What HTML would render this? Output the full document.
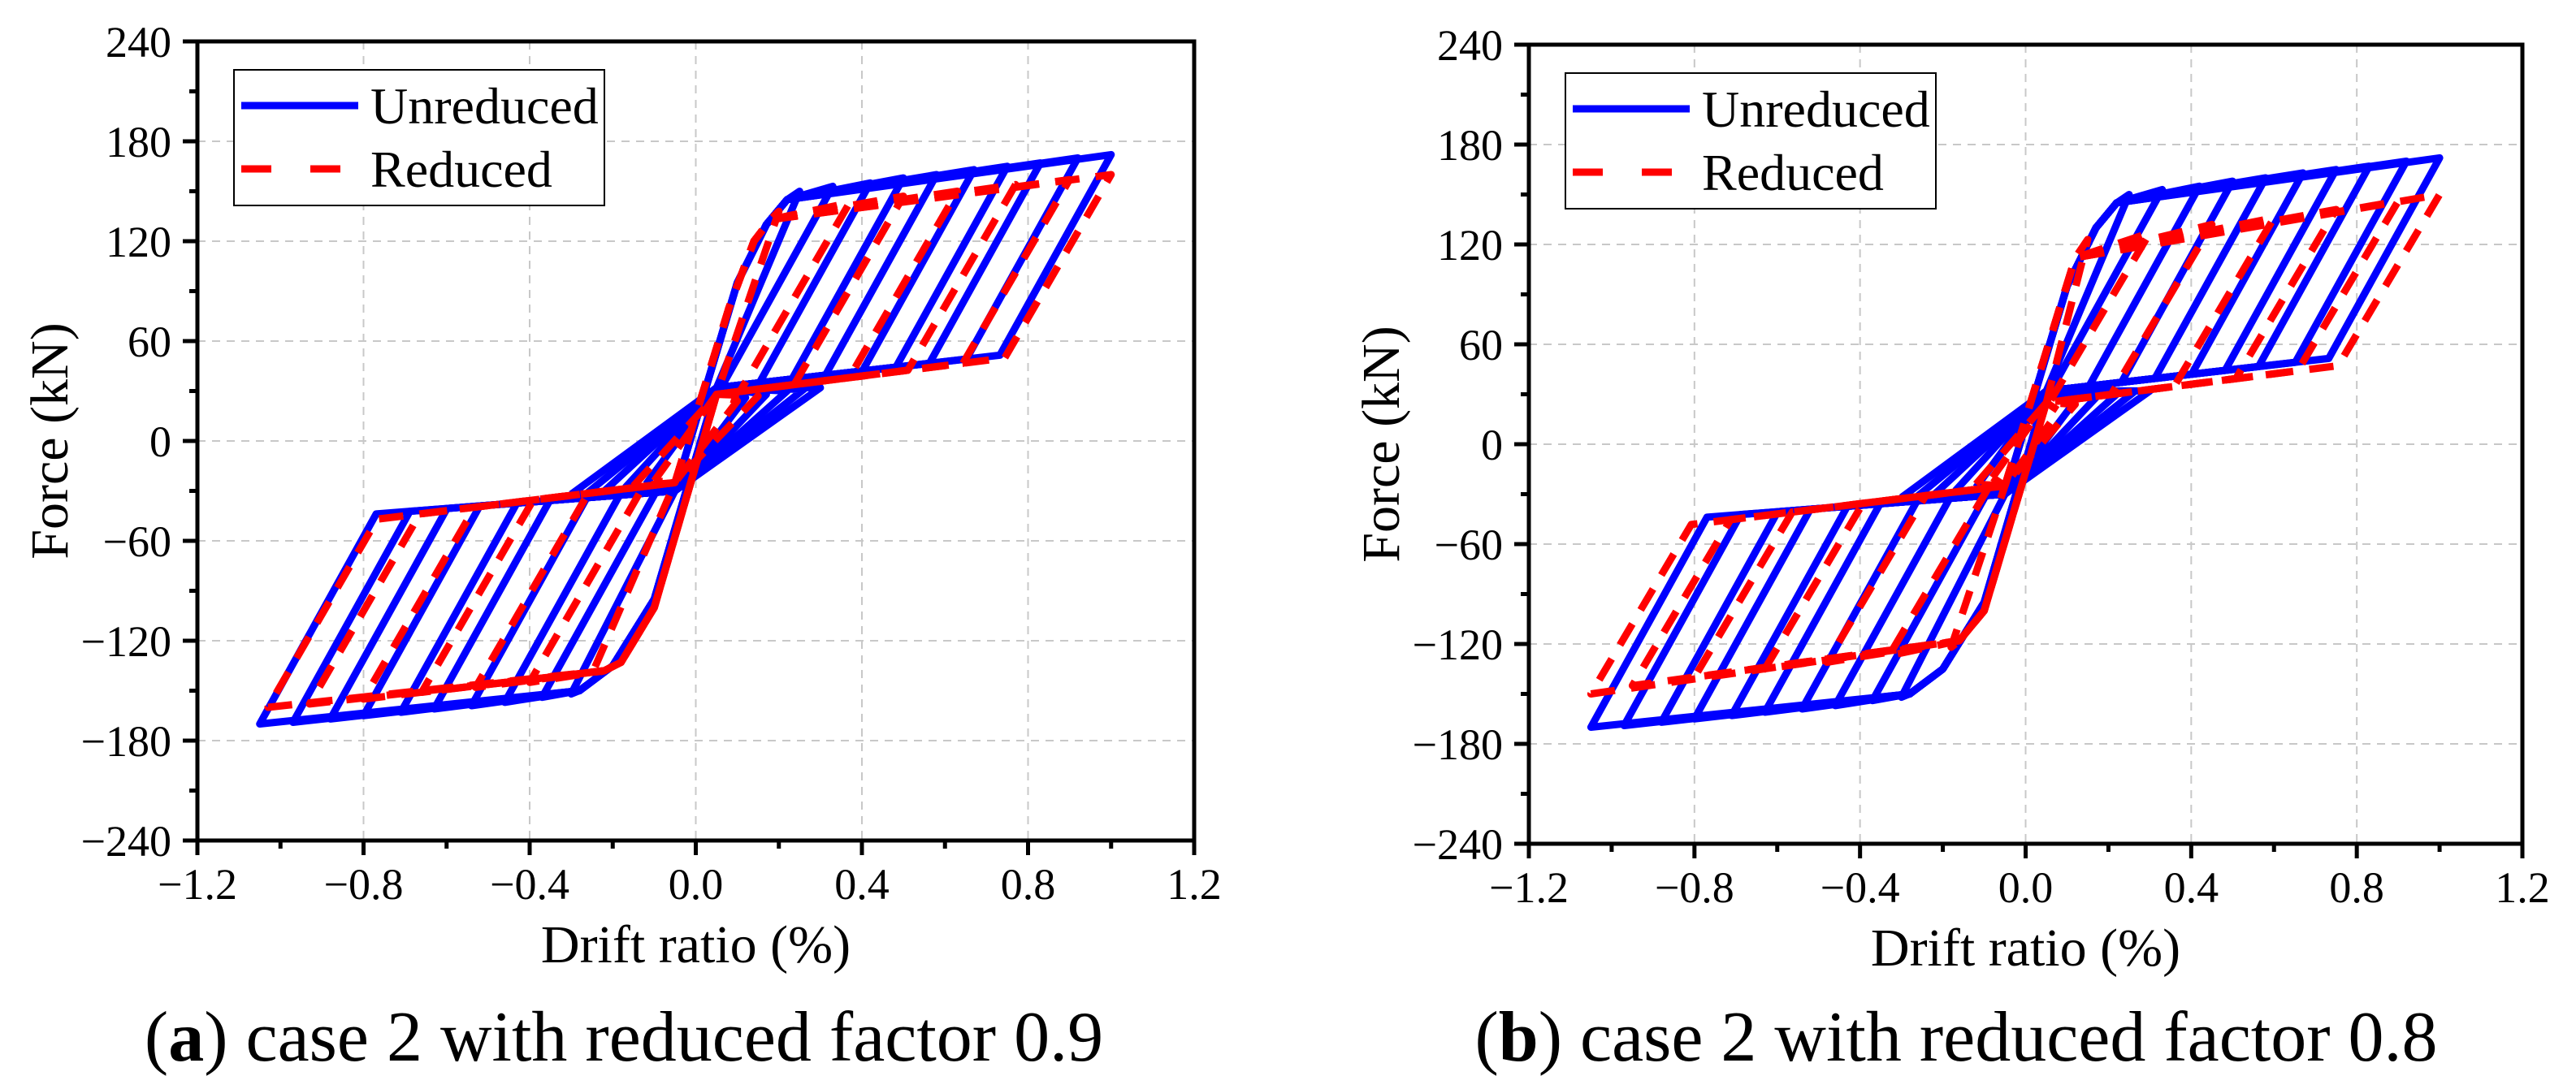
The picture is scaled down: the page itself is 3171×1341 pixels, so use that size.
<!DOCTYPE html>
<html><head><meta charset="utf-8"><style>
html,body{margin:0;padding:0;background:#fff}
svg{display:block}
text{font-family:"Liberation Serif","DejaVu Serif",serif;fill:#000}
</style></head><body>
<svg id="fig" width="3171" height="1341" viewBox="0 0 3171 1341" xmlns="http://www.w3.org/2000/svg"></svg>
<script>
// ---- data (drift %, force kN) ----
const xTicks = [-1.2, -0.8, -0.4, 0.0, 0.4, 0.8, 1.2];
const xTickLabels = ["\u22121.2", "\u22120.8", "\u22120.4", "0.0", "0.4", "0.8", "1.2"];
const yTicks = [-240, -180, -120, -60, 0, 60, 120, 180, 240];
const yTickLabels = ["\u2212240", "\u2212180", "\u2212120", "\u221260", "0", "60", "120", "180", "240"];

// Unreduced (both panels)
const blueAmpPos = [0.25, 0.33, 0.42, 0.5, 0.58, 0.67, 0.75, 0.83, 0.92, 1.0];
const blueForcePos = [150, 153, 155, 158, 160, 163, 165, 167, 170, 172];
const blueAmpNeg = [-0.3, -0.37, -0.46, -0.54, -0.63, -0.71, -0.8, -0.88, -0.97, -1.05];
const blueForceNeg = [-152, -154, -157, -159, -161, -163, -165, -167, -169, -170];
// small early cycles (central band)
const blueSmallAmp = [0.12, 0.17, 0.22, 0.26, 0.3];
const blueSmallForce = [26, 28, 30, 31, 32];

// Reduced, panel a (factor 0.9)
const redAAmpPos = [0.2, 0.37, 0.5, 0.63, 0.77, 0.9, 1.0];
const redAForcePos = [138, 143, 147, 150, 154, 157, 160];
const redAAmpNeg = [-0.25, -0.4, -0.53, -0.66, -0.8, -0.93, -1.03];
const redAForceNeg = [-140, -145, -148, -151, -155, -158, -160];
const redASmallAmp = [0.1, 0.15];
const redASmallForce = [24, 27];

// Reduced, panel b (factor 0.8)
const redBAmpPos = [0.15, 0.3, 0.45, 0.6, 0.75, 0.9, 1.0];
const redBForcePos = [123, 127, 132, 136, 141, 146, 150];
const redBAmpNeg = [-0.18, -0.33, -0.48, -0.63, -0.8, -0.95, -1.05];
const redBForceNeg = [-122, -127, -131, -135, -140, -145, -150];
const redBSmallAmp = [0.08, 0.12];
const redBSmallForce = [20, 24];

const NS = "http://www.w3.org/2000/svg";
const svg = document.getElementById("fig");
function el(tag, attrs, parent) {
  const e = document.createElementNS(NS, tag);
  for (const k in attrs) e.setAttribute(k, attrs[k]);
  (parent || svg).appendChild(e);
  return e;
}

function drawPanel(cfg) {
  const g = el("g", {});
  
  
  const L = cfg.left, R = cfg.right, T = cfg.top, B = cfg.bottom;
  const sx = v => L + (v + 1.2) / 2.4 * (R - L);
  const sy = v => B - (v + 240) / 480 * (B - T);

  xTicks.forEach((v, i) => {
    if (i === 0 || i === xTicks.length - 1) return;
    const ln = el("line", {x1: sx(v), x2: sx(v), y1: T, y2: B, stroke: "#c8c8c8", "stroke-width": 2, "stroke-dasharray": "10 8"}, g);
    
    
  });
  yTicks.forEach((v, i) => {
    if (i === 0 || i === yTicks.length - 1) return;
    const ln = el("line", {x1: L, x2: R, y1: sy(v), y2: sy(v), stroke: "#c8c8c8", "stroke-width": 2, "stroke-dasharray": "10 8"}, g);
    
    
  });

  const clip = el("clipPath", {id: cfg.name + "-clip"}, g);
  el("rect", {x: L, y: T, width: R - L, height: B - T}, clip);
  const plot = el("g", {"clip-path": "url(#" + cfg.name + "-clip)"}, g);
  
  

  const toD = pts => pts.map((p, j) => (j ? "L" : "M") + sx(p[0]).toFixed(1) + " " + sy(p[1]).toFixed(1)).join(" ");

  function loops(s, color, dash, name) {
    const sg = el("g", {}, plot);
    
    
    const k = s.k;
    const upB = (s.up[1][1] - s.up[0][1]) / (s.up[1][0] - s.up[0][0]);
    const upC = s.up[0][1] - upB * s.up[0][0];
    const loB = (s.lo[1][1] - s.lo[0][1]) / (s.lo[1][0] - s.lo[0][0]);
    const loI = s.lo[0][1] - loB * s.lo[0][0];
    // small central cycles
    for (let i = 0; i < s.sa.length; i++) {
      const a = s.sa[i], f = s.sf[i];
      const pts = [[-a, -f], [s.up[0][0], s.up[0][1]], [a, f], [s.lo[0][0], s.lo[0][1]], [-a, -f]];
      const p = el("path", {d: toD(pts), fill: "none", stroke: color, "stroke-width": 9, "stroke-linejoin": "round", "stroke-dasharray": dash}, sg);
      
      
    }
    for (let i = 0; i < s.ap.length; i++) {
      const d = s.ap[i], F = s.fp[i], dn = s.an[i], Fn = s.fn[i];
      const pts = [];
      pts.push([s.lo[0][0], s.lo[0][1]]);
      s.cu.forEach(p => { if (p[0] < d) pts.push(p); });
      pts.push([d, F]);
      const du = (F - k * d - upC) / (upB - k);
      if (du > s.up[0][0]) pts.push([du, upC + upB * du]);
      pts.push([s.up[0][0], s.up[0][1]]);
      s.cl.forEach(p => { if (p[0] > dn) pts.push(p); });
      pts.push([dn, Fn]);
      const dl = (loI - Fn + k * dn) / (k - loB);
      if (dl < s.lo[0][0]) pts.push([dl, loI + loB * dl]);
      pts.push([s.lo[0][0], s.lo[0][1]]);
      const path = el("path", {d: toD(pts), fill: "none", stroke: color, "stroke-width": 9, "stroke-linejoin": "round", "stroke-dasharray": dash}, sg);
      
      
    }
  }
  loops(cfg.blue, "#0000ff", "none", "unreduced-series");
  loops(cfg.red, "#ff0000", "30 20", "reduced-series");

  xTicks.forEach((v, i) => {
    const t = el("line", {x1: sx(v), x2: sx(v), y1: B, y2: B + 18, stroke: "#000", "stroke-width": 5}, g);
    
    
    if (i < xTicks.length - 1) {
      const m = el("line", {x1: sx(v + 0.2), x2: sx(v + 0.2), y1: B, y2: B + 10, stroke: "#000", "stroke-width": 5}, g);
      
      
    }
    const tx = el("text", {x: sx(v), y: B + 72, "font-size": 54, "text-anchor": "middle"}, g);
    tx.textContent = xTickLabels[i];
    
    
  });
  yTicks.forEach((v, i) => {
    const t = el("line", {x1: L - 18, x2: L, y1: sy(v), y2: sy(v), stroke: "#000", "stroke-width": 5}, g);
    
    
    if (i < yTicks.length - 1) {
      const m = el("line", {x1: L - 10, x2: L, y1: sy(v + 30), y2: sy(v + 30), stroke: "#000", "stroke-width": 5}, g);
      
      
    }
    const tx = el("text", {x: L - 32, y: sy(v) + 19, "font-size": 54, "text-anchor": "end"}, g);
    tx.textContent = yTickLabels[i];
    
    
  });

  const fr = el("rect", {x: L, y: T, width: R - L, height: B - T, fill: "none", stroke: "#000", "stroke-width": 5}, g);
  
  

  const xt = el("text", {x: (L + R) / 2, y: B + 150, "font-size": 66, "text-anchor": "middle"}, g);
  xt.textContent = "Drift ratio (%)";
  
  
  const cy = (T + B) / 2;
  const yt = el("text", {x: 0, y: 0, "font-size": 66, "text-anchor": "middle", transform: "translate(" + (L - 160) + "," + cy + ") rotate(-90)"}, g);
  yt.textContent = "Force (kN)";
  
  

  const lg = el("g", {}, g);
  
  
  const lx = L + 45, ly = T + 35;
  el("rect", {x: lx, y: ly, width: 456, height: 167, fill: "#fff", stroke: "#000", "stroke-width": 2}, lg);
  const e1 = el("g", {}, lg);
  
  
  el("line", {x1: lx + 9, x2: lx + 153, y1: ly + 44, y2: ly + 44, stroke: "#0000ff", "stroke-width": 9}, e1);
  const t1 = el("text", {x: lx + 168, y: ly + 66, "font-size": 64}, e1);
  t1.textContent = "Unreduced";
  const e2 = el("g", {}, lg);
  
  
  el("line", {x1: lx + 9, x2: lx + 153, y1: ly + 122, y2: ly + 122, stroke: "#ff0000", "stroke-width": 9, "stroke-dasharray": "37 48"}, e2);
  const t2 = el("text", {x: lx + 168, y: ly + 144, "font-size": 64}, e2);
  t2.textContent = "Reduced";

  const cap = el("text", {x: cfg.capX, y: 1306, "font-size": 88, "text-anchor": "middle"}, g);
  
  
  cap.innerHTML = '(<tspan font-weight="bold">' + cfg.letter + '</tspan>) ' + cfg.caption;
}

const blueSeries = {ap: blueAmpPos, fp: blueForcePos, an: blueAmpNeg, fn: blueForceNeg, k: 450,
  sa: blueSmallAmp, sf: blueSmallForce,
  up: [[0.05, 32], [0.75, 52]], lo: [[-0.05, -30], [-0.78, -44]],
  cu: [[0.1, 95], [0.17, 130], [0.22, 145]], cl: [[-0.1, -95], [-0.2, -135], [-0.28, -150]]};

drawPanel({name: "panel-a", left: 243, right: 1470, top: 51, bottom: 1035, capX: 768, letter: "a",
  caption: "case 2 with reduced factor 0.9", blue: blueSeries,
  red: {ap: redAAmpPos, fp: redAForcePos, an: redAAmpNeg, fn: redAForceNeg, k: 430,
    sa: redASmallAmp, sf: redASmallForce,
    up: [[0.05, 28], [0.75, 50]], lo: [[-0.05, -25], [-0.8, -48]],
    cu: [[0.08, 80], [0.14, 120], [0.18, 133]], cl: [[-0.1, -100], [-0.18, -133], [-0.22, -138]]}});

drawPanel({name: "panel-b", left: 1882, right: 3105, top: 55, bottom: 1039, capX: 2408, letter: "b",
  caption: "case 2 with reduced factor 0.8", blue: blueSeries,
  red: {ap: redBAmpPos, fp: redBForcePos, an: redBAmpNeg, fn: redBForceNeg, k: 420,
    sa: redBSmallAmp, sf: redBSmallForce,
    up: [[0.05, 25], [0.75, 47]], lo: [[-0.05, -25], [-0.8, -48]],
    cu: [[0.08, 80], [0.12, 112]], cl: [[-0.1, -100], [-0.16, -118]]}});
</script>
</body></html>
